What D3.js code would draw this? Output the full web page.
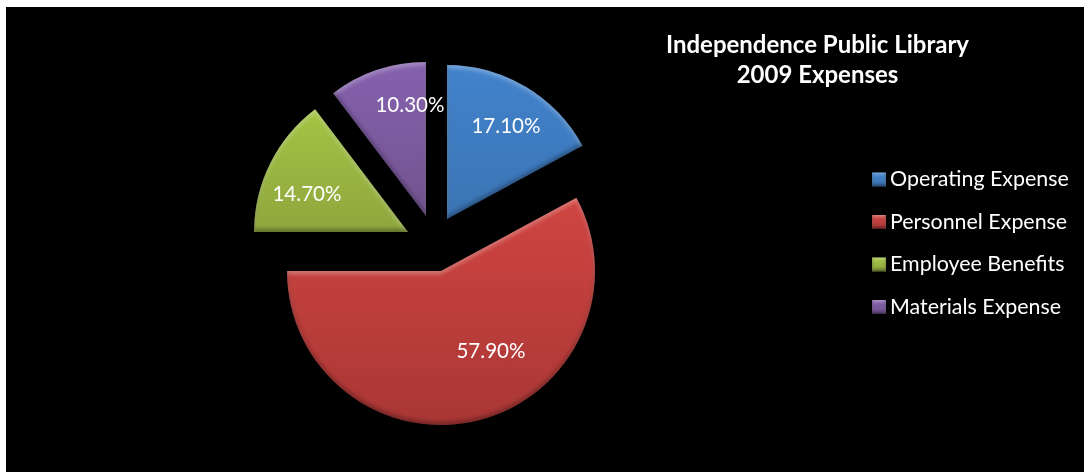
<!DOCTYPE html>
<html><head><meta charset="utf-8">
<script src="https://cdn.jsdelivr.net/npm/d3@7"></script>
<style>html,body{margin:0;padding:0;background:#fff}svg{display:block}text{font-family:Lato,"Open Sans",sans-serif}</style>
</head><body><div id="c"></div>
<script>
const categories=["Operating Expense","Personnel Expense","Employee Benefits","Materials Expense"];
const values=[17.1,57.9,14.7,10.3];
const valueLabels=["17.10%","57.90%","14.70%","10.30%"];
const titleLines=["Independence Public Library","2009 Expenses"];
const sliceLight=["#4283cc","#d04542","#a3c444","#8661ae"];
const sliceDark=["#3b74b4","#a93735","#8ea63d","#71538f"];
// layout: where each exploded slice's apex sits
const apexX=[447,441,408,426], apexY=[219,271,232,216];
const labelX=[506,491,307,410], labelY=[133,358,201,112];
const W=1084,H=472,R=154;
const svg=d3.select("#c").append("svg").attr("width",W).attr("height",H);
const defs=svg.append("defs");
sliceLight.forEach((c,i)=>{
  const g=defs.append("linearGradient").attr("id","g"+i).attr("x1",0).attr("y1",0).attr("x2",0).attr("y2",1);
  g.append("stop").attr("offset",0).attr("stop-color",c);
  g.append("stop").attr("offset",1).attr("stop-color",sliceDark[i]);
});
function bevel(id,blur,off,hi,lo){
  const f=defs.append("filter").attr("id",id).attr("x","-5%").attr("y","-5%").attr("width","110%").attr("height","110%").attr("color-interpolation-filters","sRGB");
  f.append("feGaussianBlur").attr("in","SourceAlpha").attr("stdDeviation",blur).attr("result","b");
  f.append("feOffset").attr("in","b").attr("dy",off).attr("result","bd");
  f.append("feComposite").attr("in","SourceAlpha").attr("in2","bd").attr("operator","out").attr("result","topEdge");
  f.append("feFlood").attr("flood-color",hi).attr("result","hc");
  f.append("feComposite").attr("in","hc").attr("in2","topEdge").attr("operator","in").attr("result","hi");
  f.append("feOffset").attr("in","b").attr("dy",-off).attr("result","bu");
  f.append("feComposite").attr("in","SourceAlpha").attr("in2","bu").attr("operator","out").attr("result","botEdge");
  f.append("feFlood").attr("flood-color",lo).attr("result","lc");
  f.append("feComposite").attr("in","lc").attr("in2","botEdge").attr("operator","in").attr("result","lo");
  const m=f.append("feMerge");
  ["SourceGraphic","hi","lo"].forEach(n=>m.append("feMergeNode").attr("in",n));
}
bevel("bev",2,3,"rgba(255,255,255,0.3)","rgba(0,0,0,0.32)");
bevel("bevS",1.6,2,"rgba(255,255,255,0.3)","rgba(0,0,0,0.45)");
const soft=defs.append("filter").attr("id","soft").attr("x","-2%").attr("y","-10%").attr("width","104%").attr("height","120%");
soft.append("feGaussianBlur").attr("stdDeviation",0.35);
svg.append("rect").attr("x",6).attr("y",7).attr("width",W-6).attr("height",H-7).attr("fill","#000");
const pie=d3.pie().sort(null).value(d=>d)(values);
const arc=d3.arc().innerRadius(0).outerRadius(R);
svg.append("g").selectAll("path").data(pie).join("path")
  .attr("transform",(d,i)=>`translate(${apexX[i]},${apexY[i]})`)
  .attr("d",arc).attr("fill",(d,i)=>`url(#g${i})`).attr("filter","url(#bev)");
svg.append("g").attr("filter","url(#soft)").selectAll("text").data(valueLabels).join("text")
  .attr("x",(d,i)=>labelX[i]).attr("y",(d,i)=>labelY[i]).attr("text-anchor","middle")
  .attr("fill","#fff").attr("font-size",20.6).text(d=>d);
svg.append("g").attr("filter","url(#soft)").selectAll("text").data(titleLines).join("text")
  .attr("x",817.5).attr("y",(d,i)=>53+i*29.5).attr("text-anchor","middle")
  .attr("fill","#fff").attr("font-size",24).attr("font-weight",700).text(d=>d);
const y=d3.scalePoint().domain(categories).range([179.5,307]);
const lg=svg.append("g").selectAll("g").data(categories).join("g").attr("transform",d=>`translate(0,${y(d)})`);
lg.append("rect").attr("x",872).attr("y",-7).attr("width",14).attr("height",14).attr("fill",(d,i)=>`url(#g${i})`).attr("filter","url(#bevS)");
lg.append("text").attr("x",890).attr("y",6.5).attr("fill","#fff").attr("font-size",21.4).attr("filter","url(#soft)").text(d=>d);
</script></body></html>
